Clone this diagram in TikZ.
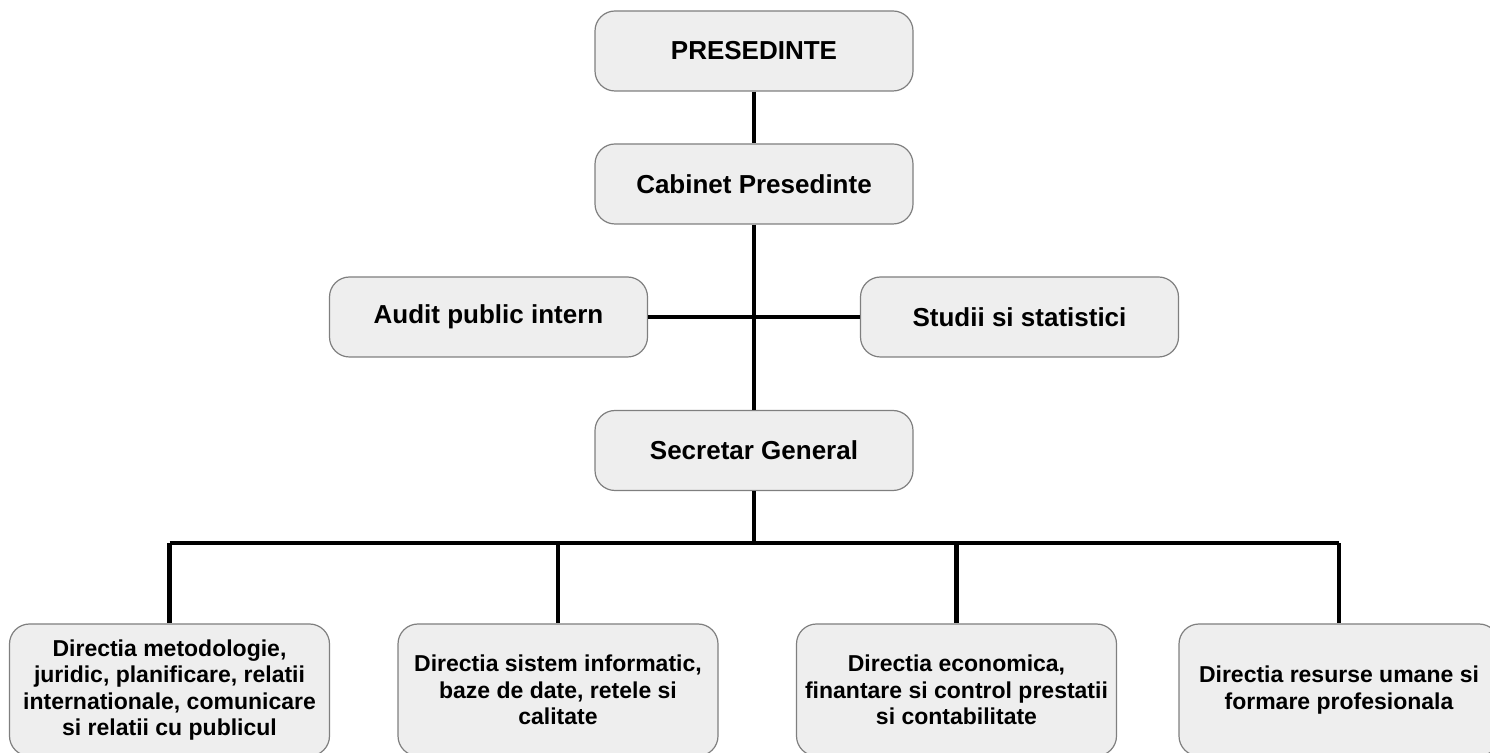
\documentclass[tikz,border=0pt]{standalone}
\usepackage{fontspec}
\setmainfont{Liberation Sans}
\usetikzlibrary{positioning}
\definecolor{boxfill}{HTML}{EEEEEE}
\definecolor{boxline}{HTML}{7F7F7F}

\begin{document}
\begin{tikzpicture}[x=0.5pt, y=-0.5pt, line width=2.2pt,
	office/.style={rectangle, rounded corners=10pt, draw=boxline, line width=0.6pt, fill=boxfill, minimum width=159pt, minimum height=40pt, align=center, font=\bfseries\fontsize{13}{15}\selectfont},
	dept/.style={office, minimum width=160pt, minimum height=66pt, font=\bfseries\fontsize{11.5}{13.3}\selectfont}]

		\useasboundingbox (0,0) rectangle (1490,753);

		\node[office] (pres) at (754,51) {PRESEDINTE};
		\node[office] (cab) at (754,184) {Cabinet Presedinte};
		\node[office] (audit) at (488.5,317) {Audit public intern};
		\node[office] (studii) at (1019.5,317) {Studii si statistici};
		\node[office] (sg) at (754,450.5) {Secretar General};

		\node[dept] (d1) at (169.5,690) {Directia metodologie,\\ juridic, planificare, relatii\\ internationale, comunicare\\ si relatii cu publicul};
		\node[dept] (d2) at (558,690) {Directia sistem informatic,\\ baze de date, retele si\\ calitate};
		\node[dept] (d3) at (956.5,690) {Directia economica,\\ finantare si control prestatii\\ si contabilitate};
		\node[dept] (d4) at (1339,690) {Directia resurse umane si\\ formare profesionala};

		\coordinate (bar) at (754,543);

		\draw (pres) -- (cab);
		\draw (cab) -- (sg);
		\draw (audit.east) -- (studii.west);
		\draw (sg.south) -- (bar);
		\draw (d1.north |- bar) -- (d4.north |- bar);
		\foreach \d in {d1, d2, d3, d4}
			\draw (\d.north |- bar) -- (\d.north);

\end{tikzpicture}
\end{document}
